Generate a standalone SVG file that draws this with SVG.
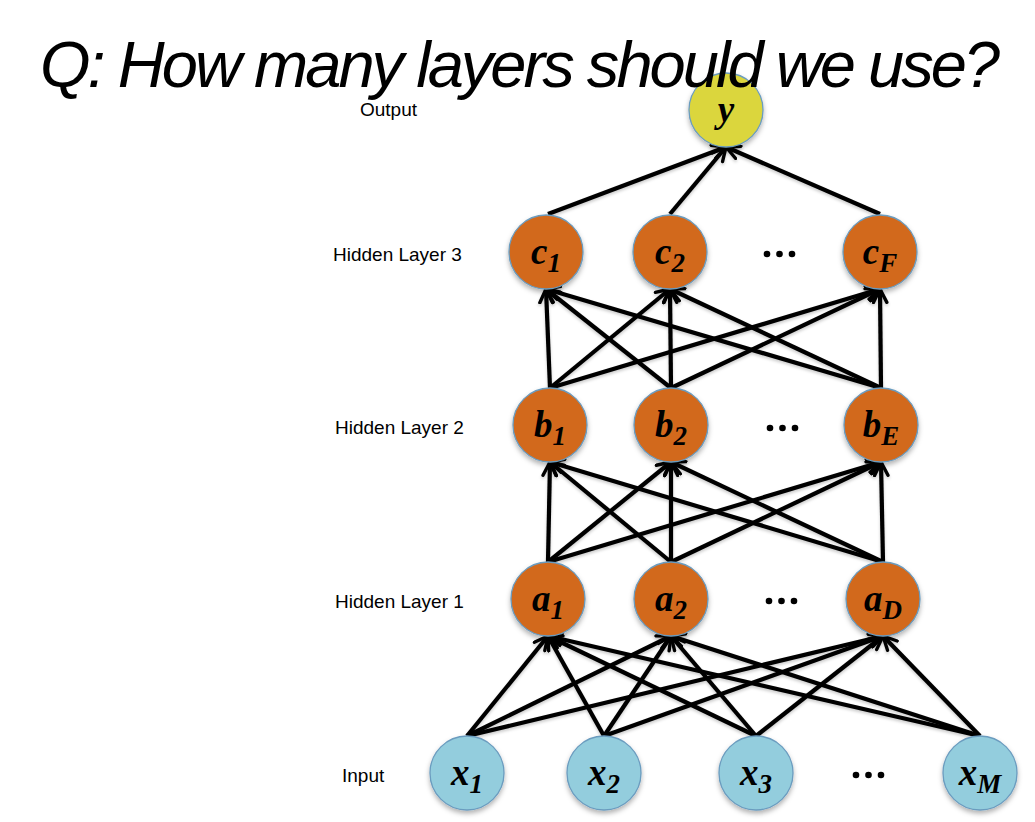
<svg xmlns="http://www.w3.org/2000/svg" width="1035" height="822" viewBox="0 0 1035 822">
<style>
.title{font-family:"Liberation Sans",Arial,sans-serif;font-style:italic;font-size:65px;fill:#000}
.lbl{font-family:"Liberation Sans",Arial,sans-serif;font-size:19px;fill:#000}
.n{stroke:#6b9cbf;stroke-width:1.3;filter:url(#sh)}
.h{fill:#d2691e}
.in{fill:#93cddd}
.out{fill:#dbd63c}
.t{font-family:"Liberation Serif","Times New Roman",serif;font-style:italic;font-weight:bold;font-size:37px;fill:#000;text-anchor:middle}
.s{font-size:27px}
.e line{stroke:#000;stroke-width:4.2;marker-end:url(#ah)}
.dot{fill:#000}
</style>
<defs>
<filter id="sh" x="-20%" y="-20%" width="140%" height="150%">
<feDropShadow dx="0" dy="3" stdDeviation="2.5" flood-color="#000" flood-opacity="0.3"/>
</filter>
<filter id="lsh" x="-5%" y="-5%" width="110%" height="110%">
<feDropShadow dx="0" dy="2" stdDeviation="1.5" flood-color="#000" flood-opacity="0.2"/>
</filter>
<marker id="ah" viewBox="0 0 10 10" markerWidth="4" markerHeight="4" refX="9" refY="5" orient="auto" markerUnits="strokeWidth">
<path d="M1,1 L9,5 L1,9" fill="none" stroke="#000" stroke-width="2" stroke-linecap="round" stroke-linejoin="round"/>
</marker>
</defs>
<rect width="1035" height="822" fill="#fff"/>
<g id="labels">
<text class="lbl" x="360" y="116">Output</text>
<text class="lbl" x="333" y="261">Hidden Layer 3</text>
<text class="lbl" x="335" y="434">Hidden Layer 2</text>
<text class="lbl" x="335" y="608">Hidden Layer 1</text>
<text class="lbl" x="342" y="782">Input</text>
</g>
<g id="connectors" class="e" filter="url(#lsh)">
<line x1="467" y1="736" x2="548" y2="636"/>
<line x1="467" y1="736" x2="671" y2="636"/>
<line x1="467" y1="736" x2="883" y2="636"/>
<line x1="604" y1="736" x2="548" y2="636"/>
<line x1="604" y1="736" x2="671" y2="636"/>
<line x1="604" y1="736" x2="883" y2="636"/>
<line x1="756" y1="736" x2="548" y2="636"/>
<line x1="756" y1="736" x2="671" y2="636"/>
<line x1="756" y1="736" x2="883" y2="636"/>
<line x1="980" y1="736" x2="548" y2="636"/>
<line x1="980" y1="736" x2="671" y2="636"/>
<line x1="980" y1="736" x2="883" y2="636"/>
<line x1="548" y1="562" x2="550" y2="462"/>
<line x1="548" y1="562" x2="671" y2="462"/>
<line x1="548" y1="562" x2="881" y2="462"/>
<line x1="671" y1="562" x2="550" y2="462"/>
<line x1="671" y1="562" x2="671" y2="462"/>
<line x1="671" y1="562" x2="881" y2="462"/>
<line x1="883" y1="562" x2="550" y2="462"/>
<line x1="883" y1="562" x2="671" y2="462"/>
<line x1="883" y1="562" x2="881" y2="462"/>
<line x1="550" y1="388" x2="546" y2="289"/>
<line x1="550" y1="388" x2="670" y2="289"/>
<line x1="550" y1="388" x2="880" y2="289"/>
<line x1="671" y1="388" x2="546" y2="289"/>
<line x1="671" y1="388" x2="670" y2="289"/>
<line x1="671" y1="388" x2="880" y2="289"/>
<line x1="881" y1="388" x2="546" y2="289"/>
<line x1="881" y1="388" x2="670" y2="289"/>
<line x1="881" y1="388" x2="880" y2="289"/>
<line x1="548" y1="214" x2="726" y2="147"/>
<line x1="670" y1="214" x2="726" y2="147"/>
<line x1="880" y1="214" x2="726" y2="147"/>
</g>
<g id="node-y"><circle class="n out" cx="726" cy="110" r="37"/><text class="t" x="726" y="122">y</text></g>
<g id="node-c1"><circle class="n h" cx="546" cy="252" r="37"/><text class="t" x="546" y="264">c<tspan class="s" dy="8">1</tspan></text></g>
<g id="node-c2"><circle class="n h" cx="670" cy="252" r="37"/><text class="t" x="670" y="264">c<tspan class="s" dy="8">2</tspan></text></g>
<g id="node-cF"><circle class="n h" cx="880" cy="252" r="37"/><text class="t" x="880" y="264">c<tspan class="s" dy="8">F</tspan></text></g>
<g id="node-b1"><circle class="n h" cx="550" cy="425" r="37"/><text class="t" x="550" y="437">b<tspan class="s" dy="8">1</tspan></text></g>
<g id="node-b2"><circle class="n h" cx="671" cy="425" r="37"/><text class="t" x="671" y="437">b<tspan class="s" dy="8">2</tspan></text></g>
<g id="node-bE"><circle class="n h" cx="881" cy="425" r="37"/><text class="t" x="881" y="437">b<tspan class="s" dy="8">E</tspan></text></g>
<g id="node-a1"><circle class="n h" cx="548" cy="599" r="37"/><text class="t" x="548" y="611">a<tspan class="s" dy="8">1</tspan></text></g>
<g id="node-a2"><circle class="n h" cx="671" cy="599" r="37"/><text class="t" x="671" y="611">a<tspan class="s" dy="8">2</tspan></text></g>
<g id="node-aD"><circle class="n h" cx="883" cy="599" r="37"/><text class="t" x="883" y="611">a<tspan class="s" dy="8">D</tspan></text></g>
<g id="node-x1"><circle class="n in" cx="467" cy="773" r="37"/><text class="t" x="467" y="785">x<tspan class="s" dy="8">1</tspan></text></g>
<g id="node-x2"><circle class="n in" cx="604" cy="773" r="37"/><text class="t" x="604" y="785">x<tspan class="s" dy="8">2</tspan></text></g>
<g id="node-x3"><circle class="n in" cx="756" cy="773" r="37"/><text class="t" x="756" y="785">x<tspan class="s" dy="8">3</tspan></text></g>
<g id="node-xM"><circle class="n in" cx="980" cy="773" r="37"/><text class="t" x="980" y="785">x<tspan class="s" dy="8">M</tspan></text></g>
<g id="ellipses">
<circle class="dot" cx="767" cy="254" r="3.3"/><circle class="dot" cx="779.5" cy="254" r="3.3"/><circle class="dot" cx="792" cy="254" r="3.3"/>
<circle class="dot" cx="770" cy="428" r="3.3"/><circle class="dot" cx="782.5" cy="428" r="3.3"/><circle class="dot" cx="795" cy="428" r="3.3"/>
<circle class="dot" cx="769" cy="601" r="3.3"/><circle class="dot" cx="781.5" cy="601" r="3.3"/><circle class="dot" cx="794" cy="601" r="3.3"/>
<circle class="dot" cx="856" cy="775" r="3.3"/><circle class="dot" cx="868.5" cy="775" r="3.3"/><circle class="dot" cx="881" cy="775" r="3.3"/>
</g>
<text class="title" x="40" y="87" textLength="960" lengthAdjust="spacing">Q: How many layers should we use?</text>
</svg>
